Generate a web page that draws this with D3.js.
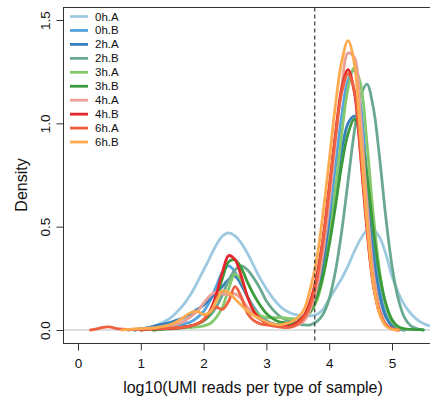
<!DOCTYPE html>
<html>
<head>
<meta charset="utf-8">
<script src="https://cdn.jsdelivr.net/npm/d3@7"></script>
<style>
html,body{margin:0;padding:0;background:#fff;}
svg{display:block;}
text{font-family:"Liberation Sans",Arial,Helvetica,sans-serif;fill:#111;}
</style>
</head>
<body>
<svg id="chart" width="430" height="397"></svg>
<script>
// x grid (log10 UMI reads), shared by all series
const xGrid = d3.range(55).map(i => +(0.2 + i * 0.1).toFixed(1));
const seriesNames = ["0h.A","0h.B","2h.A","2h.B","3h.A","3h.B","4h.A","4h.B","6h.A","6h.B"];
const seriesColors = ["#9ecae1","#55a3dc","#3580bd","#68a990","#86c96c","#3b9a3c","#eaa096","#e3262b","#ef6040","#fdab4e"];
const xTicks = [0,1,2,3,4,5];
const yTicks = [0,0.5,1.0,1.5];
const yTickLabels = ["0.0","0.5","1.0","1.5"];
const thresholdX = 3.77;
const N = null;

const d_0hA = [N,N,N,N,N,N,0,.003,.006,.01,.018,.03,.045,.065,.095,.13,.175,.23,.29,.35,.41,.455,.47,.455,.42,.37,.31,.25,.2,.155,.12,.095,.08,.072,.068,.068,.075,.1,.15,.2,.25,.31,.38,.44,.48,.485,.45,.37,.26,.18,.12,.08,.05,.032,.02];
const d_0hB = [N,N,N,N,N,N,N,0,.005,.008,.01,.012,.015,.018,.02,.03,.04,.06,.09,.14,.21,.28,.31,.28,.22,.16,.11,.07,.045,.03,.025,.02,.022,.033,.054,.1,.19,.34,.54,.79,1.04,1.21,1.255,1.09,.76,.44,.2,.077,.024,.006,0,N,N,N,N];
const d_2hA = [N,N,N,N,N,N,N,0,.005,.01,.018,.025,.032,.04,.05,.062,.08,.1,.12,.15,.18,.21,.245,.26,.22,.16,.1,.06,.04,.03,.025,.025,.027,.04,.06,.1,.18,.3,.48,.67,.87,1.0,1.035,.9,.63,.36,.17,.063,.02,.005,0,N,N,N,N];
const d_2hB = [N,N,N,N,N,N,N,N,N,N,0,.003,.005,.008,.01,.015,.02,.03,.045,.07,.11,.17,.24,.29,.31,.29,.25,.2,.14,.1,.07,.05,.04,.03,.025,.025,.04,.075,.15,.285,.48,.72,.96,1.13,1.19,1.08,.84,.55,.31,.15,.06,.02,.006,0,N];
const d_3hA = [N,N,N,N,N,N,N,N,0,.003,.005,.006,.008,.009,.01,.011,.012,.015,.02,.03,.06,.11,.2,.27,.24,.16,.1,.07,.06,.06,.06,.058,.055,.055,.063,.086,.14,.25,.43,.68,.95,1.17,1.27,1.19,.91,.565,.29,.12,.04,.011,.002,N,N,N,N];
const d_3hB = [N,N,N,N,N,N,N,N,N,N,0,.003,.005,.007,.01,.015,.02,.03,.045,.08,.15,.25,.33,.34,.3,.23,.17,.12,.08,.055,.04,.035,.03,.04,.057,.09,.155,.26,.41,.6,.8,.95,1.02,.95,.75,.49,.27,.13,.05,.016,.006,.003,.002,.001,N];
const d_4hA = [N,N,N,N,N,N,0,.003,.005,.008,.01,.012,.015,.02,.03,.045,.065,.09,.13,.165,.185,.175,.17,.175,.15,.11,.075,.05,.035,.025,.02,.015,.015,.025,.045,.1,.2,.37,.62,.91,1.18,1.34,1.32,1.03,.62,.29,.11,.03,.007,0,N,N,N,N,N];
const d_4hB = [N,N,N,N,N,N,N,N,0,.003,.005,.006,.007,.008,.01,.015,.02,.03,.05,.09,.17,.28,.36,.34,.26,.16,.09,.055,.035,.025,.02,.02,.02,.04,.07,.14,.26,.44,.69,.95,1.17,1.26,1.15,.84,.49,.22,.083,.024,.006,0,N,N,N,N,N];
const d_6hA = [0,.005,.013,.015,.008,.004,.003,.003,.004,.005,.006,.007,.008,.01,.012,.015,.02,.03,.05,.09,.11,.1,.14,.21,.16,.08,.045,.03,.025,.02,.015,.012,.015,.03,.06,.12,.24,.43,.68,.94,1.15,1.24,1.16,.86,.51,.23,.09,.025,.006,0,N,N,N,N,N];
const d_6hB = [N,N,N,N,N,0,.003,.005,.006,.008,.01,.015,.02,.03,.045,.065,.085,.09,.075,.085,.14,.19,.18,.15,.12,.09,.07,.055,.04,.03,.025,.03,.04,.06,.1,.2,.34,.56,.82,1.09,1.3,1.4,1.29,.93,.53,.23,.08,.02,.003,0,N,N,N,N,N];

const seriesValues = [d_0hA,d_0hB,d_2hA,d_2hB,d_3hA,d_3hB,d_4hA,d_4hB,d_6hA,d_6hB];

const svg = d3.select("#chart");
const plotLeft = 63.5, plotRight = 441, plotTop = 7.5, plotBottom = 343.5;

const x = d3.scaleLinear().domain([0,5]).range([78,392]);
const y = d3.scaleLinear().domain([0,1.5]).range([330,20]);

svg.append("defs").append("clipPath").attr("id","clip")
  .append("rect").attr("x",plotLeft).attr("y",plotTop)
  .attr("width",plotRight-plotLeft).attr("height",plotBottom-plotTop);

const g = svg.append("g").attr("clip-path","url(#clip)");

// baseline at 0
g.append("line").attr("x1",plotLeft).attr("x2",plotRight)
  .attr("y1",y(0)).attr("y2",y(0)).attr("stroke","#bdbdbd").attr("stroke-width",1);

// density lines
const line = d3.line()
  .defined(d => d[1] !== null)
  .x(d => x(d[0])).y(d => y(d[1]))
  .curve(d3.curveCatmullRom.alpha(0.5));

seriesValues.forEach((vals,i) => {
  const pts = xGrid.map((xv,j) => [xv, vals[j]]);
  g.append("path").datum(pts)
    .attr("d", line)
    .attr("fill","none")
    .attr("stroke", seriesColors[i])
    .attr("stroke-width", 2.8)
    .attr("stroke-linejoin","round")
    .attr("stroke-linecap","round");
});

// threshold dashed line
g.append("line").attr("x1",x(thresholdX)).attr("x2",x(thresholdX))
  .attr("y1",plotTop).attr("y2",plotBottom)
  .attr("stroke","#333").attr("stroke-width",1.2).attr("stroke-dasharray","4,3");

// frame
svg.append("rect").attr("x",plotLeft).attr("y",plotTop)
  .attr("width",plotRight-plotLeft).attr("height",plotBottom-plotTop)
  .attr("fill","none").attr("stroke","#333").attr("stroke-width",1);

// x axis
const xAxis = d3.axisBottom(x).tickValues(xTicks).tickSize(7).tickFormat(d3.format("d"));
const gx = svg.append("g").attr("transform",`translate(0,${plotBottom})`).call(xAxis);
gx.select(".domain").remove();
gx.selectAll(".tick line").attr("stroke","#333");
gx.selectAll(".tick text").attr("font-size",13.5).attr("dy",null).attr("y",24)
  .style("font-family","'Liberation Sans',Arial,sans-serif").attr("fill","#111");

// y axis
const yAxis = d3.axisLeft(y).tickValues(yTicks).tickSize(7).tickFormat((d,i) => yTickLabels[i]);
const gy = svg.append("g").attr("transform",`translate(${plotLeft},0)`).call(yAxis);
gy.select(".domain").remove();
gy.selectAll(".tick line").attr("stroke","#333");
gy.selectAll(".tick text")
  .attr("x",null).attr("dy",null)
  .attr("text-anchor","middle")
  .attr("transform","translate(-14,0) rotate(-90)")
  .attr("font-size",13.5)
  .style("font-family","'Liberation Sans',Arial,sans-serif").attr("fill","#111");

// axis titles
svg.append("text").attr("x",253).attr("y",393).attr("text-anchor","middle")
  .attr("font-size",16).text("log10(UMI reads per type of sample)");
svg.append("text").attr("transform","translate(27,185) rotate(-90)")
  .attr("text-anchor","middle").attr("font-size",16).text("Density");

// legend
const leg = svg.append("g");
seriesNames.forEach((name,i) => {
  const ly = 16.5 + 13.95*i;
  leg.append("line").attr("x1",70).attr("x2",88).attr("y1",ly).attr("y2",ly)
    .attr("stroke",seriesColors[i]).attr("stroke-width",2.8);
  leg.append("text").attr("x",95).attr("y",ly).attr("dy","0.35em")
    .attr("font-size",11.5).text(name);
});
</script>
</body>
</html>
